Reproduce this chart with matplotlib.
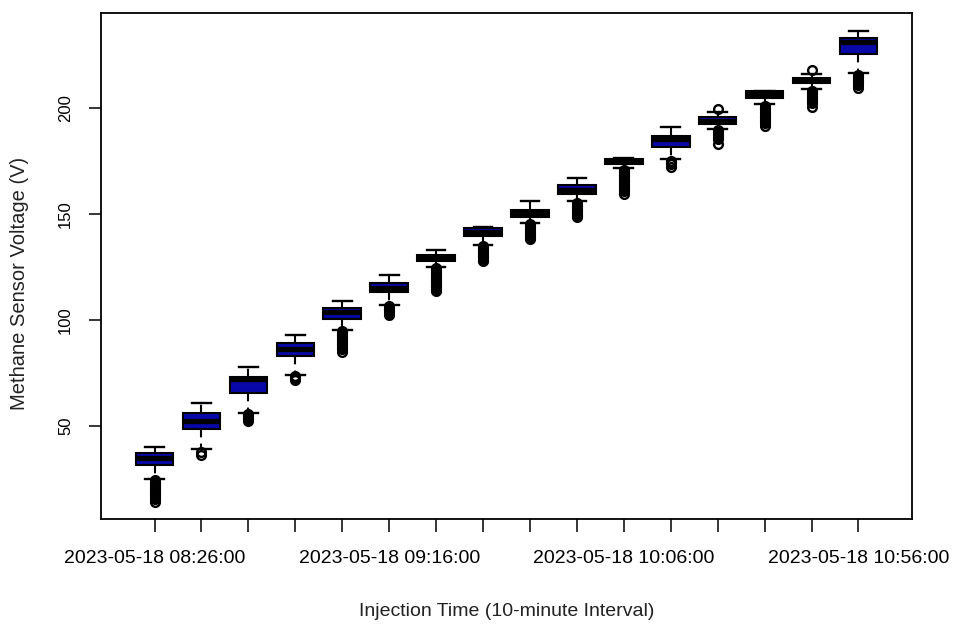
import matplotlib
matplotlib.use("Agg")
import matplotlib.pyplot as plt

plt.rcParams["font.family"] = ["Liberation Sans", "DejaVu Sans"]

# Injection times, one box per 10-minute interval
times = [
    "2023-05-18 08:26:00", "2023-05-18 08:36:00", "2023-05-18 08:46:00",
    "2023-05-18 08:56:00", "2023-05-18 09:06:00", "2023-05-18 09:16:00",
    "2023-05-18 09:26:00", "2023-05-18 09:36:00", "2023-05-18 09:46:00",
    "2023-05-18 09:56:00", "2023-05-18 10:06:00", "2023-05-18 10:16:00",
    "2023-05-18 10:26:00", "2023-05-18 10:36:00", "2023-05-18 10:46:00",
    "2023-05-18 10:56:00",
]

# Box summaries of methane sensor voltage (V)
whislo = [25.0, 39.2, 56.3, 74.1, 95.3, 107.1, 125.0, 135.7, 145.9, 156.3,
          171.6, 175.9, 190.4, 201.9, 209.0, 216.5]
q1 = [31.6, 48.8, 65.7, 82.9, 100.5, 113.1, 128.0, 139.6, 148.7, 159.6,
      173.6, 181.7, 192.5, 205.0, 212.1, 225.8]
med = [34.8, 52.4, 72.0, 86.2, 104.0, 115.2, 129.5, 141.6, 150.5, 161.4,
       174.9, 185.4, 194.2, 206.8, 213.3, 231.3]
q3 = [37.4, 56.3, 73.3, 89.3, 105.6, 117.3, 130.7, 143.3, 152.2, 163.8,
      176.3, 186.8, 195.9, 208.2, 214.5, 233.3]
whishi = [40.1, 60.7, 77.7, 92.8, 109.0, 121.4, 133.0, 144.0, 156.3, 167.0,
          176.4, 191.0, 198.3, 208.3, 216.0, 236.5]

# Outlying readings per interval
fliers = [
    [24.4, 23.8, 23.2, 22.6, 22.0, 21.4, 20.8, 20.2, 19.6, 19.0, 18.4, 17.8,
     17.2, 16.6, 16.0, 15.4, 14.2],
    [37.6, 36.5],
    [55.8, 55.2, 54.6, 54.0, 53.4, 52.3],
    [73.4, 72.8, 71.7],
    [94.7, 94.1, 93.5, 92.9, 92.3, 91.7, 91.1, 90.5, 89.9, 89.3, 88.7, 88.1,
     87.5, 86.9, 86.3, 85.0],
    [106.5, 105.9, 105.3, 104.7, 104.1, 103.5, 102.2],
    [124.4, 123.8, 123.2, 122.6, 122.0, 121.4, 120.8, 120.2, 119.6, 119.0,
     118.4, 117.8, 117.2, 116.6, 116.0, 115.4, 114.8, 114.2, 113.6],
    [135.1, 134.5, 133.9, 133.3, 132.7, 132.1, 131.5, 130.9, 130.3, 129.7,
     129.1, 128.5, 127.9],
    [145.3, 144.7, 144.1, 143.5, 142.9, 142.3, 141.7, 141.1, 140.5, 139.9,
     139.3, 138.7, 138.1],
    [155.2, 153.8, 153.2, 152.6, 152.0, 151.4, 150.8, 150.2, 149.6, 149.0,
     148.6],
    [171.0, 170.4, 169.8, 169.2, 168.6, 168.0, 167.4, 166.8, 166.2, 165.6,
     165.0, 164.4, 163.8, 163.2, 162.6, 162.0, 161.4, 160.8, 159.5],
    [175.3, 174.7, 174.1, 173.5, 172.2],
    [199.8, 189.8, 189.2, 188.6, 188.0, 187.4, 186.8, 186.2, 185.6, 183.1],
    [201.3, 200.7, 200.1, 199.5, 198.9, 198.3, 197.7, 197.1, 196.5, 195.9,
     195.3, 194.7, 194.1, 193.5, 192.9, 191.6],
    [218.3, 208.4, 207.8, 207.2, 206.6, 206.0, 205.4, 204.8, 204.2, 203.6,
     203.0, 202.4, 200.8],
    [215.9, 215.3, 214.7, 214.1, 213.5, 212.9, 212.3, 211.7, 211.1, 209.6],
]

stats = [
    dict(whislo=a, q1=b, med=c, q3=d, whishi=e, fliers=f)
    for a, b, c, d, e, f in zip(whislo, q1, med, q3, whishi, fliers)
]
positions = list(range(1, len(times) + 1))

fig = plt.figure(figsize=(9.55, 6.28), dpi=100)
ax = fig.add_axes([101 / 955, 1 - 519 / 628, 811 / 955, 506 / 628])

ax.bxp(
    stats,
    positions=positions,
    widths=0.8,
    capwidths=0.4,
    patch_artist=True,
    boxprops=dict(facecolor="#0808A8", edgecolor="black", linewidth=1.5),
    medianprops=dict(color="black", linewidth=3.8, solid_capstyle="butt"),
    whiskerprops=dict(color="black", linewidth=1.5, linestyle=(0, (4, 3))),
    capprops=dict(color="black", linewidth=1.7),
    flierprops=dict(marker="o", markerfacecolor="none",
                    markeredgecolor="black", markersize=6.3,
                    markeredgewidth=1.7),
)

ax.set_xlim(-0.14, len(times) + 1.14)
ax.set_ylim(6.1, 245.0)

ax.set_xticks(positions)
ax.set_xticklabels([t if i % 5 == 0 else "" for i, t in enumerate(times)],
                   fontsize=14)
ax.set_yticks([50, 100, 150, 200])
ax.set_yticklabels(["50", "100", "150", "200"], fontsize=12)
for lab in ax.get_yticklabels():
    lab.set_rotation(90)
    lab.set_va("center")

ax.tick_params(axis="both", direction="out", length=9, width=1.1, color="black")
ax.tick_params(axis="x", pad=13)
ax.tick_params(axis="y", pad=11)

for sp in ax.spines.values():
    sp.set_linewidth(1.3)
    sp.set_color("black")

ax.set_xlabel("Injection Time (10-minute Interval)", fontsize=14, color="#222222")
ax.xaxis.set_label_coords(0.5, -(612 - 519) / 506)
ax.xaxis.label.set_va("center")
ax.set_ylabel("Methane Sensor Voltage (V)", fontsize=14.5, color="#222222")
ax.yaxis.set_label_coords((19 - 101) / 811, 1 - (283 - 13) / 506)
ax.yaxis.label.set_va("center")

fig.savefig("out.png", dpi=100, facecolor="white")
